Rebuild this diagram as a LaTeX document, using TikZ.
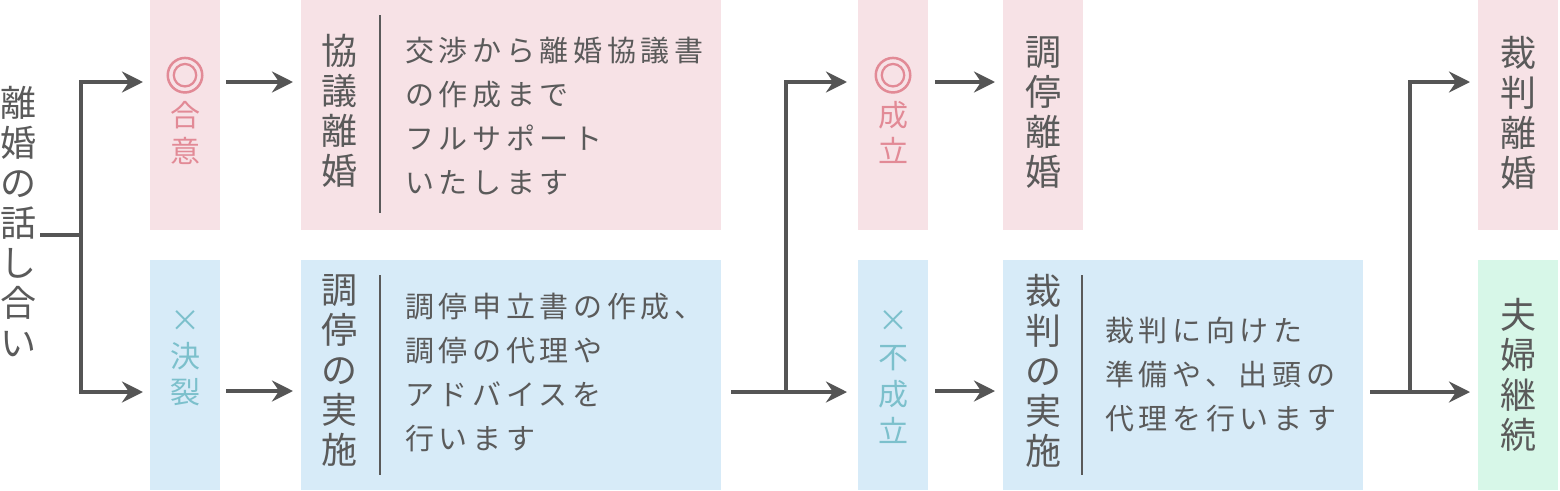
\documentclass[tikz,border=0pt]{standalone}
\usepackage{fontspec}
\setmainfont{Noto Sans CJK JP}
\newfontfamily\jpls[LetterSpace=16]{Noto Sans CJK JP}
\newfontfamily\markfont[FakeBold=2.5]{Noto Sans CJK JP}
\usetikzlibrary{arrows.meta}
\definecolor{pinkbg}{HTML}{F7E2E6}
\definecolor{bluebg}{HTML}{D7EBF8}
\definecolor{greenbg}{HTML}{D7F7E8}
\definecolor{pinktx}{HTML}{E28A96}
\definecolor{bluetx}{HTML}{7CC0CC}
\definecolor{graytx}{HTML}{5A5A5A}
\definecolor{linec}{HTML}{555555}
\newcommand{\bigmark}{{\markfont\fontsize{40}{36}\selectfont ◎}}
\begin{document}
\begin{tikzpicture}[x=1pt,y=-1pt,
  bx/.style={draw=none, inner sep=0pt, anchor=north west},
  pbox/.style={bx, fill=pinkbg},
  bbox/.style={bx, fill=bluebg},
  gbox/.style={bx, fill=greenbg},
  vtext/.style={align=center, inner sep=0pt, anchor=north, text=graytx, font=\fontsize{36}{40}\selectfont},
  stext/.style={align=center, inner sep=0pt, anchor=north, font=\fontsize{30}{36}\selectfont},
  body/.style={align=left, inner sep=0pt, anchor=north west, text=graytx, font=\jpls\fontsize{29}{44}\selectfont},
  divider/.style={draw=graytx, line width=2pt},
  conn/.style={draw=linec, line width=3.5pt},
  arr/.style={conn, -{Stealth[length=21pt, width=21pt, inset=7pt]}}
]
\useasboundingbox (0,0) rectangle (1560,490);

% boxes
\node[pbox, minimum width=70pt, minimum height=230pt] (agree) at (150,0) {};
\node[bbox, minimum width=70pt, minimum height=230pt] (rupt) at (150,260) {};
\node[pbox, minimum width=420pt, minimum height=230pt] (kyogi) at (301,0) {};
\node[bbox, minimum width=420pt, minimum height=230pt] (chotei) at (301,260) {};
\node[pbox, minimum width=70pt, minimum height=230pt] (seiritsu) at (858,0) {};
\node[bbox, minimum width=70pt, minimum height=230pt] (fuseiritsu) at (858,260) {};
\node[pbox, minimum width=80pt, minimum height=230pt] (choteirikon) at (1003,0) {};
\node[bbox, minimum width=360pt, minimum height=230pt] (saiban) at (1003,260) {};
\node[pbox, minimum width=80pt, minimum height=230pt] (saibanrikon) at (1478,0) {};
\node[gbox, minimum width=80pt, minimum height=230pt] (keizoku) at (1478,260) {};

% texts
\node[vtext] (talk) at (19,86) {離\\婚\\の\\話\\し\\合\\い};
\node[stext, text=pinktx] (agreeT) at (185,57) {\bigmark\\合\\意};
\node[stext, text=bluetx] (ruptT) at (185,310) {×\\決\\裂};
\node[vtext] (kyogiT) at (339,34) {協\\議\\離\\婚};
\node[body] (kyogiB) at (405,37) {交渉から離婚協議書\\の作成まで\\フルサポート\\いたします};
\node[vtext] (choteiT) at (339,274) {調\\停\\の\\実\\施};
\node[body] (choteiB) at (405,293) {調停申立書の作成、\\調停の代理や\\アドバイスを\\行います};
\node[stext, text=pinktx] (seiritsuT) at (893,57) {\bigmark\\成\\立};
\node[stext, text=bluetx, font=\fontsize{30}{37}\selectfont] (fuseiritsuT) at (893,310) {×\\不\\成\\立};
\node[vtext] (choteirikonT) at (1043,36) {調\\停\\離\\婚};
\node[vtext] (saibanT) at (1043,274) {裁\\判\\の\\実\\施};
\node[body] (saibanB) at (1105,317) {裁判に向けた\\準備や、出頭の\\代理を行います};
\node[vtext] (saibanrikonT) at (1518,36) {裁\\判\\離\\婚};
\node[vtext] (keizokuT) at (1518,298) {夫\\婦\\継\\続};

% dividers
\draw[divider] (380,15) -- (380,213);
\draw[divider] (380,275) -- (380,475);
\draw[divider] (1082,275) -- (1082,475);

% connector coordinates
\coordinate (t0) at (40,235);
\coordinate (j1) at (81,235);
\coordinate (a1) at (143,82);
\coordinate (b1) at (143,392);
\coordinate (a2s) at (226,82);
\coordinate (a2) at (293,82);
\coordinate (b2s) at (226,391);
\coordinate (b2) at (293,391);
\coordinate (c0) at (731,392);
\coordinate (j2) at (786,392);
\coordinate (a3) at (847,82);
\coordinate (b3) at (847,392);
\coordinate (a4s) at (935,82);
\coordinate (a4) at (995,82);
\coordinate (b4s) at (935,391);
\coordinate (b4) at (995,391);
\coordinate (d0) at (1370,392);
\coordinate (j3) at (1410,392);
\coordinate (a5) at (1470,82);
\coordinate (b5) at (1470,392);

\draw[conn] (t0) -- (j1);
\draw[arr] (j1) |- (a1);
\draw[arr] (j1) |- (b1);
\draw[arr] (a2s) -- (a2);
\draw[arr] (b2s) -- (b2);
\draw[arr] (c0) -- (b3);
\draw[arr] (j2) |- (a3);
\draw[arr] (a4s) -- (a4);
\draw[arr] (b4s) -- (b4);
\draw[arr] (d0) -- (b5);
\draw[arr] (j3) |- (a5);
\end{tikzpicture}
\end{document}
